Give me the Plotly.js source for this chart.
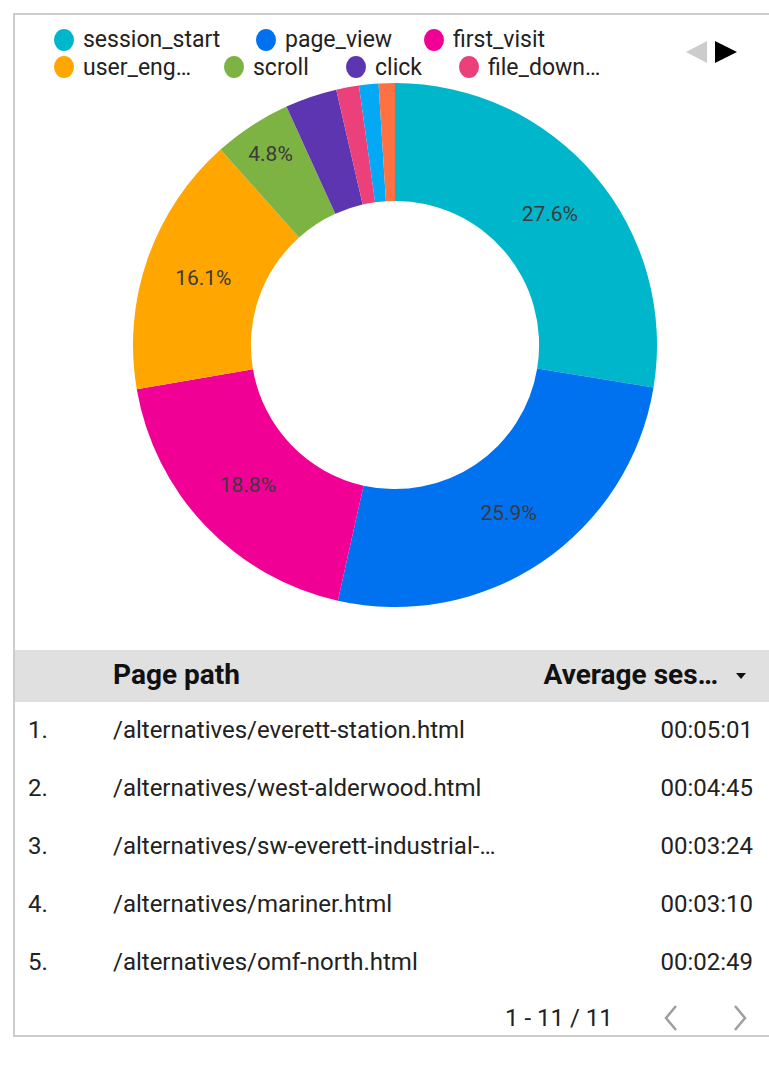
<!DOCTYPE html>
<html><head><meta charset="utf-8">
<script src="https://cdn.plot.ly/plotly-3.0.1.min.js"></script>
<style>html,body{margin:0;padding:0;background:#fff}#chart{width:769px;height:1066px}</style>
</head><body><div id="chart"></div><script>
// ---- data ----
const eventNames = ['session_start','page_view','first_visit','user_engagement','scroll','click','file_download','event_8','event_9'];
const eventShares = [27.6, 25.9, 18.8, 16.1, 4.8, 3.2, 1.4, 1.2, 1.0];
const legendLabels = ['session_start','page_view','first_visit','user_eng…','scroll','click','file_down…'];
const sliceColors = ['#00b6cb','#0072f0','#f10096','#ffa600','#7cb342','#5e35b1','#ec407a','#03a9f4','#ff7043'];

const tableHeaders = ['', 'Page path', 'Average ses…'];
const rowNumbers = ['1.','2.','3.','4.','5.'];
const pagePaths = ['/alternatives/everett-station.html','/alternatives/west-alderwood.html','/alternatives/sw-everett-industrial-…','/alternatives/mariner.html','/alternatives/omf-north.html'];
const avgSession = ['00:05:01','00:04:45','00:03:24','00:03:10','00:02:49'];
const paginationText = '1 - 11 / 11';

// ---- helpers (pixel -> paper) ----
const W = 769, H = 1066;
const px = x => x / W;
const py = y => 1 - y / H;
const NB = '\u00a0';

const pie = {
  type: 'pie', labels: eventNames, values: eventShares, sort: false,
  direction: 'clockwise', rotation: 0, hole: 0.55,
  marker: {colors: sliceColors, line: {width: 0}},
  texttemplate: '%{percent:.1%}',
  textposition: eventShares.map(v => v >= 4 ? 'inside' : 'none'),
  insidetextorientation: 'horizontal',
  textfont: {family: 'Roboto', size: 21, color: '#3a3a3a'},
  domain: {x: [px(133), px(657)], y: [py(607), py(83)]},
  hoverinfo: 'label+percent', showlegend: false
};

const table = {
  type: 'table',
  domain: {x: [px(20), px(761)], y: [py(1002), py(650)]},
  columnwidth: [85, 395, 261],
  header: {
    values: [[tableHeaders[0]], ['<b>' + tableHeaders[1] + '</b>'], ['<b>' + tableHeaders[2] + '</b>' + NB.repeat(5)]],
    align: ['left','left','right'],
    fill: {color: '#e0e0e0'}, line: {color: '#e0e0e0', width: 0},
    height: 62, font: {family: 'Roboto', size: 28, color: '#111'}
  },
  cells: {
    values: [rowNumbers, pagePaths, avgSession],
    align: ['left','left','right'],
    fill: {color: '#ffffff'}, line: {color: '#ffffff', width: 0},
    height: 58, font: {family: 'Roboto', size: 24, color: '#222'}
  }
};

// legend (first page only, as in the reference)
const legendPos = [[64,40],[266,40],[434,40],[64,67],[234,67],[356,67],[469,67]];
const shapes = [], annotations = [];
legendLabels.forEach((lab, i) => {
  const [cx, cy] = legendPos[i];
  shapes.push({type:'circle', xref:'paper', yref:'paper', x0:px(cx-10), x1:px(cx+10), y0:py(cy+11), y1:py(cy-11), fillcolor:sliceColors[i], line:{width:0}});
  annotations.push({xref:'paper', yref:'paper', x:px(cx+17), y:py(cy), xanchor:'left', yanchor:'middle', showarrow:false, text:lab, font:{family:'Roboto', size:23, color:'#222'}});
});
// legend paging arrows
shapes.push({type:'path', xref:'paper', yref:'paper', path:`M ${px(707)} ${py(41)} L ${px(686)} ${py(52)} L ${px(707)} ${py(63)} Z`, fillcolor:'#cccccc', line:{width:0}});
shapes.push({type:'path', xref:'paper', yref:'paper', path:`M ${px(715)} ${py(41)} L ${px(737)} ${py(52)} L ${px(715)} ${py(63)} Z`, fillcolor:'#000000', line:{width:0}});
// header band: extensions left/right and white strip trimming it to 52px
shapes.push({type:'rect', xref:'paper', yref:'paper', x0:px(14), x1:px(20), y0:py(702), y1:py(650), fillcolor:'#e0e0e0', line:{width:0}});
shapes.push({type:'rect', xref:'paper', yref:'paper', x0:px(761), x1:px(770), y0:py(702), y1:py(650), fillcolor:'#e0e0e0', line:{width:0}});
shapes.push({type:'rect', xref:'paper', yref:'paper', layer:'above', x0:px(15), x1:px(770), y0:py(713), y1:py(702), fillcolor:'#ffffff', line:{width:0}});
// sort arrow in header
shapes.push({type:'path', xref:'paper', yref:'paper', path:`M ${px(736)} ${py(673)} L ${px(746)} ${py(673)} L ${px(741)} ${py(679)} Z`, fillcolor:'#111111', line:{width:0}});
// card border
shapes.push({type:'rect', xref:'paper', yref:'paper', x0:px(14), x1:px(790), y0:py(1036), y1:py(14), fillcolor:'rgba(0,0,0,0)', line:{color:'#cccccc', width:2}});
// pagination
annotations.push({xref:'paper', yref:'paper', x:px(559), y:py(1018), xanchor:'center', yanchor:'middle', showarrow:false, text:paginationText, font:{family:'Roboto', size:24, color:'#222'}});
shapes.push({type:'path', xref:'paper', yref:'paper', path:`M ${px(676)} ${py(1006)} L ${px(666)} ${py(1018)} L ${px(676)} ${py(1030)}`, line:{color:'#9e9e9e', width:2.5}});
shapes.push({type:'path', xref:'paper', yref:'paper', path:`M ${px(735)} ${py(1006)} L ${px(745)} ${py(1018)} L ${px(735)} ${py(1030)}`, line:{color:'#9e9e9e', width:2.5}});

Plotly.newPlot('chart', [pie, table], {
  width: W, height: H, margin: {l:0, r:0, t:0, b:0},
  paper_bgcolor: '#ffffff', plot_bgcolor: '#ffffff',
  showlegend: false, shapes, annotations,
  font: {family: 'Roboto'}
}, {displayModeBar: false, staticPlot: true});
</script></body></html>
